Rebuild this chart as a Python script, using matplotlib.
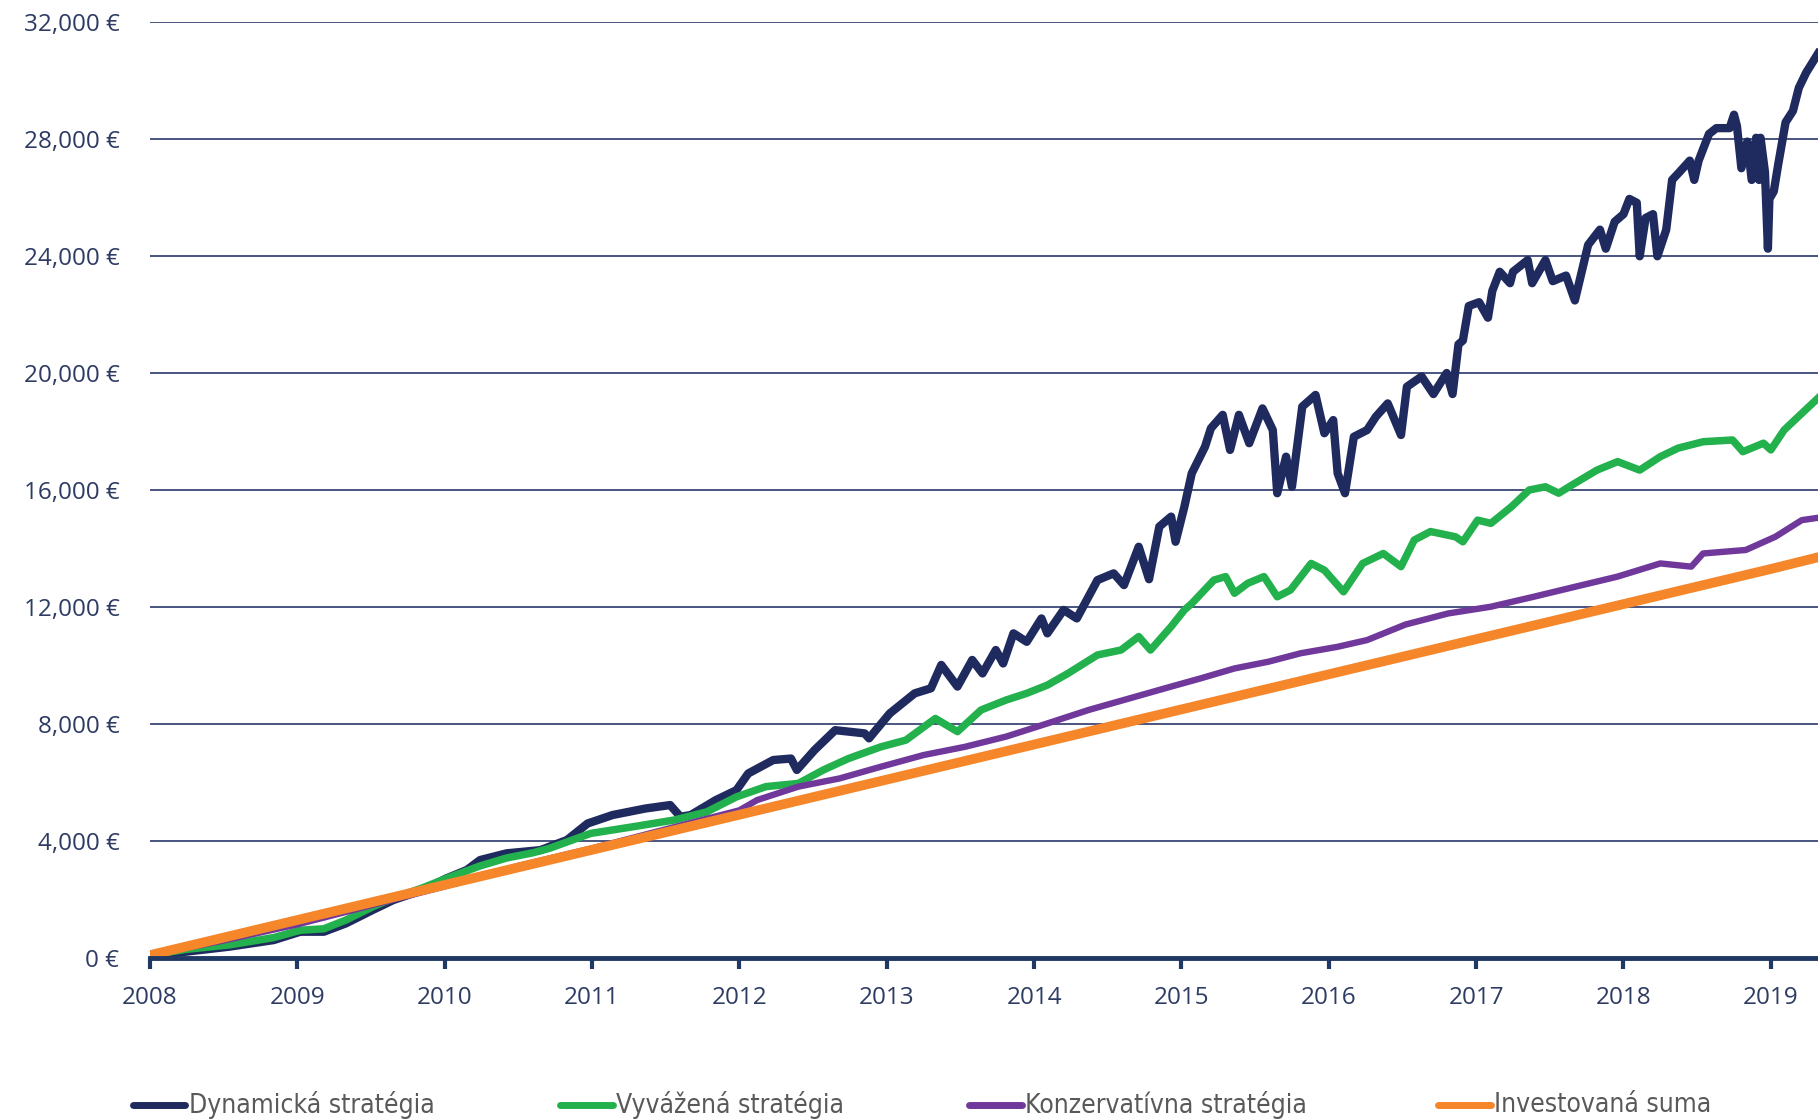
import matplotlib
matplotlib.use("Agg")
import matplotlib.pyplot as plt
from matplotlib.lines import Line2D
from matplotlib.ticker import FuncFormatter

# ====== data (year, value in EUR)
dyn_x = [2008.0, 2008.25, 2008.54, 2008.84, 2009.02, 2009.18, 2009.33, 2009.51, 2009.65, 2009.85,
         2010.01, 2010.15, 2010.24, 2010.42, 2010.65, 2010.83, 2010.97, 2011.14, 2011.36, 2011.53,
         2011.6, 2011.67, 2011.84, 2011.98, 2012.06, 2012.23, 2012.35, 2012.39, 2012.51, 2012.65,
         2012.85, 2012.88, 2013.02, 2013.19, 2013.3, 2013.37, 2013.48, 2013.58, 2013.65, 2013.74,
         2013.79, 2013.86, 2013.95, 2014.05, 2014.09, 2014.2, 2014.29, 2014.43, 2014.54, 2014.61,
         2014.71, 2014.78, 2014.85, 2014.93, 2014.96, 2015.02, 2015.07, 2015.16, 2015.2, 2015.28,
         2015.33, 2015.39, 2015.46, 2015.55, 2015.62, 2015.65, 2015.71, 2015.75, 2015.82, 2015.91,
         2015.97, 2016.03, 2016.06, 2016.11, 2016.17, 2016.26, 2016.32, 2016.4, 2016.49, 2016.53,
         2016.63, 2016.71, 2016.8, 2016.84, 2016.88, 2016.91, 2016.95, 2017.02, 2017.08, 2017.11,
         2017.16, 2017.23, 2017.25, 2017.35, 2017.38, 2017.47, 2017.52, 2017.61, 2017.67, 2017.71,
         2017.76, 2017.84, 2017.88, 2017.94, 2018.0, 2018.04, 2018.09, 2018.11, 2018.15, 2018.2,
         2018.23, 2018.29, 2018.33, 2018.38, 2018.45, 2018.48, 2018.51, 2018.58, 2018.63, 2018.72,
         2018.75, 2018.77, 2018.8, 2018.84, 2018.87, 2018.9, 2018.92, 2018.93, 2018.96, 2018.98,
         2018.99, 2019.02, 2019.05, 2019.1, 2019.15, 2019.19, 2019.24, 2019.32]
dyn_y = [100, 220, 390, 615, 900, 900, 1185, 1640, 1980, 2325,
         2720, 3010, 3350, 3580, 3690, 4035, 4600, 4890, 5110, 5230,
         4830, 4890, 5400, 5740, 6310, 6770, 6820, 6430, 7110, 7790,
         7680, 7510, 8360, 9050, 9220, 10020, 9280, 10190, 9730, 10530,
         10070, 11100, 10810, 11610, 11100, 11900, 11610, 12920, 13150, 12750,
         14060, 12950, 14750, 15090, 14230, 15430, 16570, 17480, 18110, 18570,
         17370, 18570, 17600, 18790, 18050, 15890, 17140, 16110, 18850, 19250,
         17940, 18390, 16570, 15890, 17820, 18050, 18510, 18960, 17880, 19530,
         19880, 19280, 20000, 19280, 20980, 21110, 22290, 22420, 21890, 22810,
         23460, 23070, 23460, 23860, 23070, 23860, 23140, 23330, 22480, 23330,
         24380, 24900, 24250, 25170, 25430, 25950, 25820, 23990, 25300, 25430,
         23990, 24900, 26600, 26870, 27260, 26600, 27260, 28170, 28370, 28370,
         28830, 28440, 27000, 27910, 26600, 28040, 26600, 28040, 26870, 24250,
         25950, 26210, 27130, 28570, 28960, 29750, 30270, 30920]

bal_x = [2008.0, 2008.25, 2008.54, 2008.84, 2009.02, 2009.18, 2009.33, 2009.51, 2009.65, 2009.85,
         2010.01, 2010.24, 2010.42, 2010.6, 2010.71, 2010.99, 2011.28, 2011.56, 2011.78, 2011.98,
         2012.18, 2012.4, 2012.57, 2012.74, 2012.96, 2013.13, 2013.33, 2013.48, 2013.64, 2013.81,
         2013.95, 2014.09, 2014.23, 2014.43, 2014.59, 2014.71, 2014.79, 2014.93, 2015.02, 2015.07,
         2015.22, 2015.3, 2015.36, 2015.45, 2015.56, 2015.65, 2015.74, 2015.88, 2015.97, 2016.1,
         2016.23, 2016.37, 2016.49, 2016.58, 2016.69, 2016.86, 2016.91, 2017.01, 2017.1, 2017.24,
         2017.36, 2017.47, 2017.56, 2017.67, 2017.82, 2017.96, 2018.11, 2018.25, 2018.37, 2018.54,
         2018.74, 2018.81, 2018.95, 2019.0, 2019.09, 2019.21, 2019.32]
bal_y = [100, 300, 450, 700, 950, 1000, 1300, 1750, 2050, 2400,
         2720, 3150, 3420, 3600, 3750, 4260, 4490, 4720, 5000, 5510,
         5860, 5970, 6430, 6820, 7220, 7450, 8190, 7740, 8480, 8820,
         9050, 9330, 9730, 10360, 10530, 10990, 10530, 11330, 11900, 12120,
         12920, 13040, 12470, 12810, 13040, 12350, 12580, 13490, 13260, 12520,
         13490, 13830, 13380, 14290, 14580, 14400, 14230, 14970, 14860, 15430,
         16000, 16110, 15890, 16230, 16680, 16970, 16680, 17140, 17430, 17650,
         17710, 17310, 17600, 17370, 18050, 18620, 19140]

con_x = [2008.0, 2008.5, 2009.0, 2009.5, 2010.0, 2010.5, 2011.0, 2011.5, 2012.0, 2012.12,
         2012.4, 2012.68, 2012.96, 2013.25, 2013.53, 2013.81, 2014.09, 2014.37, 2014.65, 2014.93,
         2015.13, 2015.36, 2015.59, 2015.81, 2016.06, 2016.26, 2016.52, 2016.81, 2017.1, 2017.39,
         2017.67, 2017.96, 2018.25, 2018.46, 2018.54, 2018.83, 2019.03, 2019.21, 2019.32]
con_y = [100, 600, 1150, 1800, 2450, 3150, 3750, 4400, 5050, 5400,
         5860, 6140, 6540, 6940, 7220, 7570, 8020, 8480, 8880, 9280,
         9560, 9900, 10130, 10420, 10640, 10870, 11400, 11780, 12010, 12350,
         12690, 13040, 13490, 13380, 13830, 13950, 14400, 14970, 15050]

inv_x = [2008, 2009, 2010, 2011, 2012, 2013, 2014, 2015, 2016, 2017, 2018, 2019, 2019.32]
inv_y = [100, 1300, 2500, 3700, 4900, 6100, 7300, 8500, 9700, 10900, 12100, 13300, 13700]

years = list(range(2008, 2020))
labels = ['Dynamická stratégia', 'Vyvážená stratégia', 'Konzervatívna stratégia', 'Investovaná suma']
colors = ['#1F2A5E', '#22B14C', '#70389A', '#F5862A']

navy = '#1F3864'
tick_col = '#2E3B63'
plt.rcParams['font.family'] = ['Open Sans', 'DejaVu Sans']

fig = plt.figure(figsize=(18.18, 11.2), dpi=100)
ax = fig.add_axes([0.0825, 0.1446, 0.9175, 0.8358])

# ====== series (drawn back to front like the reference)
ax.plot(dyn_x, dyn_y, color=colors[0], lw=6, solid_joinstyle='round', zorder=3)
ax.plot(bal_x, bal_y, color=colors[1], lw=5.4, solid_joinstyle='round', zorder=4)
ax.plot(con_x, con_y, color=colors[2], lw=4.6, solid_joinstyle='round', zorder=5)
ax.plot(inv_x, inv_y, color=colors[3], lw=7, zorder=6)

ax.set_xlim(2008, 2019.32)
ax.set_ylim(0, 32000)
ax.set_yticks(range(0, 32001, 4000))
ax.set_xticks(years)
ax.yaxis.set_major_formatter(FuncFormatter(lambda v, p: f'{int(v):,} €'))

for s in ['top', 'right', 'left']:
    ax.spines[s].set_visible(False)
ax.spines['bottom'].set_color(navy)
ax.spines['bottom'].set_linewidth(3.5)
ax.spines['bottom'].set_zorder(7)

ax.grid(axis='y', color='#3A4676', lw=1.3, zorder=1)
ax.set_axisbelow(True)
ax.tick_params(axis='y', length=0, pad=22, labelsize=17.5, labelcolor=tick_col)
ax.tick_params(axis='x', length=8, width=3, color=navy, pad=12, labelsize=17.5, labelcolor=tick_col)

# ====== legend drawn by hand along the bottom
leg_x = [0.073, 0.308, 0.533, 0.791]
for x0, lab, c in zip(leg_x, labels, colors):
    fig.add_artist(Line2D([x0, x0 + 0.029], [0.0135, 0.0135], color=c, lw=5,
                          solid_capstyle='round', transform=fig.transFigure))
    fig.text(x0 + 0.031, 0.0135, lab, color='#595959', fontsize=19, va='center', ha='left',
             family='DejaVu Sans', fontstretch='condensed')

fig.savefig('out.png', dpi=100)
